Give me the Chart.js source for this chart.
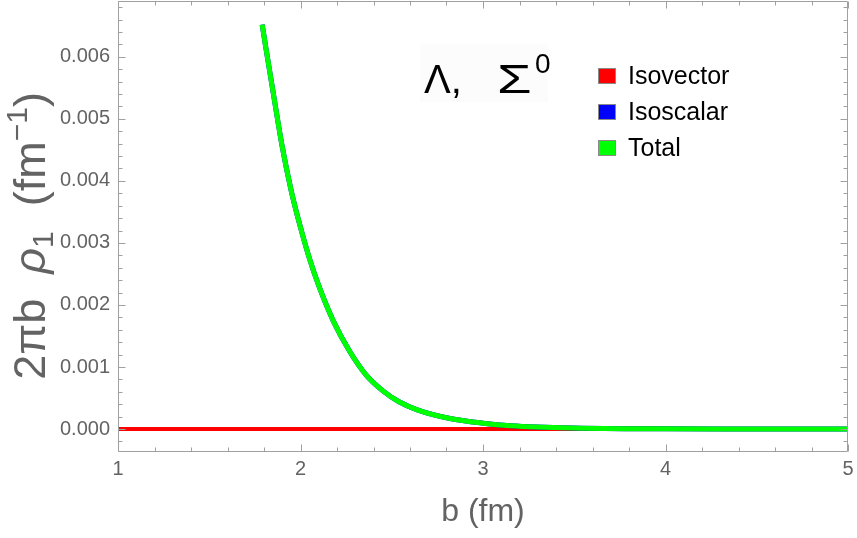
<!DOCTYPE html>
<html><head><meta charset="utf-8">
<script src="https://cdn.jsdelivr.net/npm/chart.js@4/dist/chart.umd.min.js"></script>
<style>html,body{margin:0;padding:0;background:#fff}#wrap{width:857px;height:538px;position:relative}</style>
</head><body><div id="wrap"><canvas id="c" width="857" height="538"></canvas></div>
<script>
// ---- data ----
const seriesLabels = ['Isovector', 'Isoscalar', 'Total'];
const seriesColors = ['#ff0000', '#0000ff', '#00ff00'];
const bIsovector = [1, 2, 3, 4, 5];
const isovector  = [0, 0, 0, 0, 0];
const bIsoscalar = [1.79, 1.81, 1.86, 1.90, 1.95, 2.00, 2.05, 2.10, 2.18, 2.27, 2.36, 2.45, 2.54, 2.64, 2.82, 3.00, 3.15, 3.50, 4.00, 4.50, 5.00];
const isoscalar  = [0.00652, 0.00615, 0.00525, 0.00455, 0.00383, 0.00325, 0.00274, 0.00231, 0.00174, 0.00125, 0.00087, 0.00062, 0.00044, 0.00031, 0.00017, 0.000095, 0.000055, 0.000018, 0.000004, 0.000001, 0];
const bTotal     = [1.79, 1.81, 1.86, 1.90, 1.95, 2.00, 2.05, 2.10, 2.18, 2.27, 2.36, 2.45, 2.54, 2.64, 2.82, 3.00, 3.15, 3.50, 4.00, 4.50, 5.00];
const total      = [0.00652, 0.00615, 0.00525, 0.00455, 0.00383, 0.00325, 0.00274, 0.00231, 0.00174, 0.00125, 0.00087, 0.00062, 0.00044, 0.00031, 0.00017, 0.000095, 0.000055, 0.000018, 0.000004, 0.000001, 0];
const xTicks = [1, 2, 3, 4, 5];
const yTicks = [0, 0.001, 0.002, 0.003, 0.004, 0.005, 0.006];
const xRange = [1, 5];
const yRange = [-0.00037, 0.0069];
const xTitle = 'b (fm)';
const yTitleParts = ['2πb  ', 'ρ', '1', '  (fm', '−1', ')'];
const panelParts = ['Λ,', 'Σ', '0'];

const FONT = '"Liberation Sans", Arial, sans-serif';
const GREY = '#636363';
const FRAME = '#a0a0a0';

function pts(xs, ys) { return xs.map((x, i) => ({x, y: ys[i]})); }

function drawRich(ctx, segs, x0, y0) {
  let x = x0;
  for (const s of segs) {
    ctx.font = s.f;
    ctx.fillText(s.t, x, y0 + (s.dy || 0));
    x += ctx.measureText(s.t).width;
  }
  return x - x0;
}
function richWidth(ctx, segs) {
  let w = 0;
  for (const s of segs) { ctx.font = s.f; w += ctx.measureText(s.t).width; }
  return w;
}

const decorPlugin = {
  id: 'decor',
  afterDraw(chart) {
    const {ctx, chartArea: a, scales: {x, y}} = chart;
    ctx.save();
    // frame
    ctx.strokeStyle = FRAME; ctx.lineWidth = 1;
    const L = Math.round(a.left) + 0.5, R = Math.round(a.right) - 0.5, T = Math.round(a.top) + 0.5, B = Math.round(a.bottom) - 0.5;
    ctx.beginPath(); ctx.rect(L, T, R - L, B - T); ctx.stroke();
    // ticks (inward, all four sides)
    const xs = xTicks[1] - xTicks[0], ys = yTicks[1] - yTicks[0];
    ctx.beginPath();
    for (let k = Math.ceil((x.min - 1e-9) / (xs / 5)); k * xs / 5 <= x.max + 1e-9; k++) {
      const v = k * xs / 5;
      const major = Math.abs(v / xs - Math.round(v / xs)) < 1e-6;
      const len = major ? 7 : 4;
      const p = Math.round(x.getPixelForValue(v)) + 0.5;
      ctx.moveTo(p, B); ctx.lineTo(p, B - len);
      ctx.moveTo(p, T); ctx.lineTo(p, T + len);
    }
    for (let k = Math.ceil(y.min / (ys / 5) - 1e-9); k * ys / 5 <= y.max + 1e-12; k++) {
      const v = k * ys / 5;
      const major = Math.abs(v / ys - Math.round(v / ys)) < 1e-6;
      const len = major ? 7 : 4;
      const p = Math.round(y.getPixelForValue(v)) + 0.5;
      ctx.moveTo(L, p); ctx.lineTo(L + len, p);
      ctx.moveTo(R, p); ctx.lineTo(R - len, p);
    }
    ctx.stroke();

    // y title (rich text, rotated)
    ctx.fillStyle = GREY; ctx.textBaseline = 'alphabetic';
    const segs = [
      {t: yTitleParts[0], f: '45px ' + FONT},
      {t: yTitleParts[1], f: 'italic 45px ' + FONT},
      {t: yTitleParts[2], f: '30px ' + FONT, dy: 8},
      {t: yTitleParts[3], f: '45px ' + FONT},
      {t: yTitleParts[4], f: '30px ' + FONT, dy: -18},
      {t: yTitleParts[5], f: '45px ' + FONT}
    ];
    const w = richWidth(ctx, segs);
    ctx.save();
    ctx.translate(45, 236);
    ctx.rotate(-Math.PI / 2);
    drawRich(ctx, segs, -w / 2, 0);
    ctx.restore();

    // panel label
    ctx.fillStyle = '#fcfcfc';
    ctx.fillRect(420, 44, 128, 58);
    ctx.fillStyle = '#000';
    ctx.font = '40px ' + FONT;
    ctx.fillText(panelParts[0], 424, 93);
    ctx.save();
    ctx.translate(497, 93);
    ctx.scale(1.4, 1);
    ctx.fillText(panelParts[1], 0, 0);
    ctx.restore();
    ctx.font = '28px ' + FONT;
    ctx.fillText(panelParts[2], 535, 73);

    // legend
    ctx.textBaseline = 'middle';
    ctx.font = '25px ' + FONT;
    seriesLabels.forEach((lab, i) => {
      const cy = 76 + i * 36;
      ctx.fillStyle = seriesColors[i];
      ctx.fillRect(598, cy - 8, 18, 16);
      ctx.strokeStyle = '#8a8a8a'; ctx.lineWidth = 1;
      ctx.strokeRect(598.5, cy - 7.5, 17, 15);
      ctx.fillStyle = '#000';
      ctx.fillText(lab, 628, cy + 1);
    });
    ctx.restore();
  }
};

new Chart(document.getElementById('c'), {
  type: 'line',
  data: {
    datasets: [
      {label: seriesLabels[0], data: pts(bIsovector, isovector), borderColor: seriesColors[0], borderWidth: 4, pointRadius: 0, order: 3},
      {label: seriesLabels[1], data: pts(bIsoscalar, isoscalar), borderColor: seriesColors[1], borderWidth: 5, pointRadius: 0, cubicInterpolationMode: 'monotone', order: 2},
      {label: seriesLabels[2], data: pts(bTotal, total), borderColor: seriesColors[2], borderWidth: 5, pointRadius: 0, cubicInterpolationMode: 'monotone', order: 1}
    ]
  },
  options: {
    responsive: false, animation: false, devicePixelRatio: 1,
    layout: {padding: {left: 0, right: 9, top: 1, bottom: 0}},
    plugins: {legend: {display: false}, tooltip: {enabled: false}},
    scales: {
      x: {
        type: 'linear', min: xRange[0], max: xRange[1],
        afterBuildTicks: s => { s.ticks = xTicks.map(v => ({value: v})); },
        afterFit: s => { s.height = 86; s.paddingLeft = 0; s.paddingRight = 0; },
        grid: {display: false, drawTicks: false}, border: {display: false},
        ticks: {font: {size: 20, family: FONT}, color: GREY, padding: 5, maxRotation: 0, callback: v => String(v)},
        title: {display: true, text: xTitle, font: {size: 32, family: FONT, lineHeight: 1.2}, color: GREY, padding: {top: 0, bottom: 7}}
      },
      y: {
        type: 'linear', min: yRange[0], max: yRange[1],
        afterBuildTicks: s => { s.ticks = yTicks.map(v => ({value: v})); },
        afterFit: s => { s.width = 118; s.paddingTop = 0; s.paddingBottom = 0; },
        grid: {display: false, drawTicks: false}, border: {display: false},
        ticks: {font: {size: 20, family: FONT}, color: GREY, padding: 8, callback: v => v.toFixed(3)}
      }
    }
  },
  plugins: [decorPlugin]
});
</script>
</body></html>
